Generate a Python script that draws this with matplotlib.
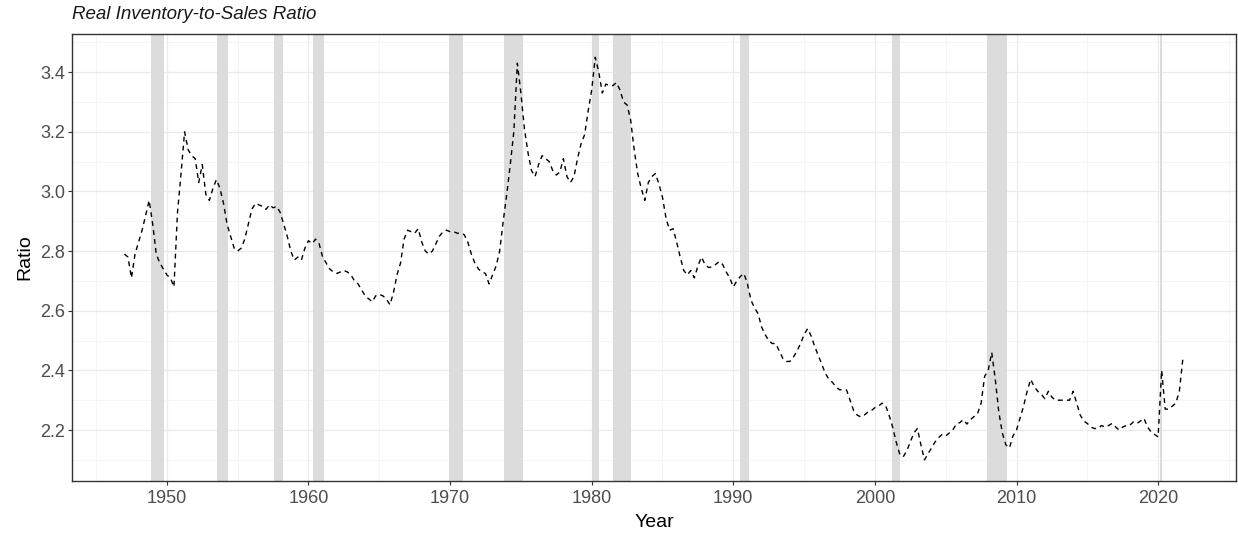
import matplotlib
matplotlib.use("Agg")
import matplotlib.pyplot as plt
from matplotlib.ticker import MultipleLocator
import numpy as np

plt.rcParams["font.family"] = ["Liberation Sans", "DejaVu Sans"]

# quarterly ratio, 1947Q1 .. 2021Q4 (one row per year)
start_year = 1947
ratio = [
    2.79, 2.78, 2.71, 2.79,   # 1947
    2.83, 2.87, 2.92, 2.97,   # 1948
    2.89, 2.79, 2.76, 2.74,   # 1949
    2.72, 2.71, 2.68, 2.93,   # 1950
    3.06, 3.20, 3.14, 3.12,   # 1951
    3.11, 3.03, 3.09, 2.99,   # 1952
    2.97, 3.01, 3.04, 3.01,   # 1953
    2.96, 2.89, 2.85, 2.81,   # 1954
    2.80, 2.81, 2.84, 2.89,   # 1955
    2.94, 2.96, 2.955, 2.95,  # 1956
    2.94, 2.955, 2.945, 2.95, # 1957
    2.93, 2.89, 2.85, 2.80,   # 1958
    2.77, 2.78, 2.77, 2.81,   # 1959
    2.835, 2.825, 2.84, 2.825,# 1960
    2.78, 2.76, 2.74, 2.73,   # 1961
    2.725, 2.73, 2.735, 2.73, # 1962
    2.72, 2.70, 2.69, 2.67,   # 1963
    2.65, 2.64, 2.63, 2.65,   # 1964
    2.655, 2.65, 2.64, 2.62,  # 1965
    2.66, 2.72, 2.76, 2.84,   # 1966
    2.87, 2.865, 2.86, 2.875, # 1967
    2.83, 2.80, 2.79, 2.80,   # 1968
    2.825, 2.85, 2.865, 2.87, # 1969
    2.865, 2.865, 2.86, 2.86, # 1970
    2.855, 2.83, 2.79, 2.76,  # 1971
    2.74, 2.73, 2.725, 2.69,  # 1972
    2.72, 2.75, 2.80, 2.90,   # 1973
    2.99, 3.09, 3.20, 3.43,   # 1974
    3.33, 3.21, 3.13, 3.07,   # 1975
    3.05, 3.09, 3.12, 3.11,   # 1976
    3.10, 3.07, 3.055, 3.065, # 1977
    3.11, 3.05, 3.03, 3.05,   # 1978
    3.11, 3.16, 3.19, 3.27,   # 1979
    3.34, 3.45, 3.40, 3.33,   # 1980
    3.36, 3.355, 3.355, 3.365,# 1981
    3.34, 3.30, 3.29, 3.24,   # 1982
    3.14, 3.06, 3.01, 2.97,   # 1983
    3.03, 3.05, 3.06, 3.025,  # 1984
    2.98, 2.91, 2.87, 2.875,  # 1985
    2.83, 2.78, 2.735, 2.72,  # 1986
    2.735, 2.71, 2.75, 2.78,  # 1987
    2.755, 2.745, 2.747, 2.755,  # 1988
    2.765, 2.755, 2.73, 2.71, # 1989
    2.68, 2.70, 2.715, 2.725, # 1990
    2.69, 2.635, 2.61, 2.59,  # 1991
    2.545, 2.52, 2.50, 2.49,  # 1992
    2.49, 2.465, 2.44, 2.43,  # 1993
    2.43, 2.445, 2.465, 2.49, # 1994
    2.52, 2.54, 2.515, 2.48,  # 1995
    2.45, 2.42, 2.39, 2.37,   # 1996
    2.36, 2.345, 2.335, 2.335,# 1997
    2.334, 2.30, 2.265, 2.25, # 1998
    2.244, 2.25, 2.26, 2.265, # 1999
    2.275, 2.28, 2.29, 2.283, # 2000
    2.25, 2.21, 2.16, 2.12,   # 2001
    2.11, 2.13, 2.16, 2.19,   # 2002
    2.205, 2.15, 2.10, 2.12,  # 2003
    2.14, 2.16, 2.175, 2.185, # 2004
    2.18, 2.19, 2.20, 2.22,   # 2005
    2.225, 2.235, 2.22, 2.235,# 2006
    2.245, 2.255, 2.29, 2.38, # 2007
    2.40, 2.46, 2.37, 2.26,   # 2008
    2.19, 2.15, 2.14, 2.18,   # 2009
    2.20, 2.24, 2.28, 2.33,   # 2010
    2.37, 2.345, 2.33, 2.32,  # 2011
    2.305, 2.33, 2.31, 2.30,  # 2012
    2.30, 2.30, 2.30, 2.30,   # 2013
    2.33, 2.29, 2.25, 2.23,   # 2014
    2.222, 2.21, 2.205, 2.205,# 2015
    2.215, 2.21, 2.215, 2.222,# 2016
    2.21, 2.20, 2.21, 2.215,  # 2017
    2.216, 2.227, 2.222, 2.23,# 2018
    2.239, 2.21, 2.194, 2.185,# 2019
    2.177, 2.40, 2.27, 2.27,  # 2020
    2.28, 2.29, 2.33, 2.44,   # 2021
]
years = start_year + np.arange(len(ratio)) / 4

# recession periods (decimal years)
recessions = [
    (1948.9, 1949.77), (1953.53, 1954.35), (1957.58, 1958.2),
    (1960.31, 1961.11), (1969.94, 1970.88), (1973.84, 1975.12),
    (1980.01, 1980.53), (1981.49, 1982.76), (1990.48, 1991.12),
    (2001.19, 2001.78), (2007.9, 2009.33), (2020.1, 2020.3),
]

fig = plt.figure(figsize=(12.38, 5.35), dpi=100)
ax = fig.add_axes([72 / 1238, 1 - 481 / 535, (1236 - 72) / 1238, (481 - 34) / 535])

for x0, x1 in recessions:
    ax.axvspan(x0, x1, color="#dcdcdc", lw=0, zorder=1)

ax.plot(years, ratio, color="black", lw=1.0, linestyle=(0, (3.5, 3)), zorder=3)

ax.set_xlim(1943.3, 2025.5)
ax.set_ylim(2.029, 3.528)
ax.xaxis.set_major_locator(MultipleLocator(10))
ax.xaxis.set_minor_locator(MultipleLocator(5))
ax.yaxis.set_major_locator(MultipleLocator(0.2))
ax.yaxis.set_minor_locator(MultipleLocator(0.1))
ax.yaxis.set_major_formatter(matplotlib.ticker.FormatStrFormatter("%.1f"))

ax.grid(which="major", color="#ebebeb", lw=0.9, zorder=0)
ax.grid(which="minor", color="#f2f2f2", lw=0.5, zorder=0)
ax.set_axisbelow(True)

for s in ax.spines.values():
    s.set_color("#333333")
    s.set_linewidth(1.0)

ax.tick_params(which="major", length=3.2, width=0.8, color="#333333",
               labelsize=13, labelcolor="#4d4d4d")
ax.tick_params(axis="x", pad=3.5)
ax.tick_params(axis="y", pad=1.5)
ax.tick_params(which="minor", length=0)

ax.set_xlabel("Year", fontsize=14, labelpad=5)
ax.set_ylabel("Ratio", fontsize=14, labelpad=5)
ax.set_title("Real Inventory-to-Sales Ratio", fontsize=13.5, style="italic",
             loc="left", pad=11, color="#1a1a1a")

fig.savefig("out.png", dpi=100)
